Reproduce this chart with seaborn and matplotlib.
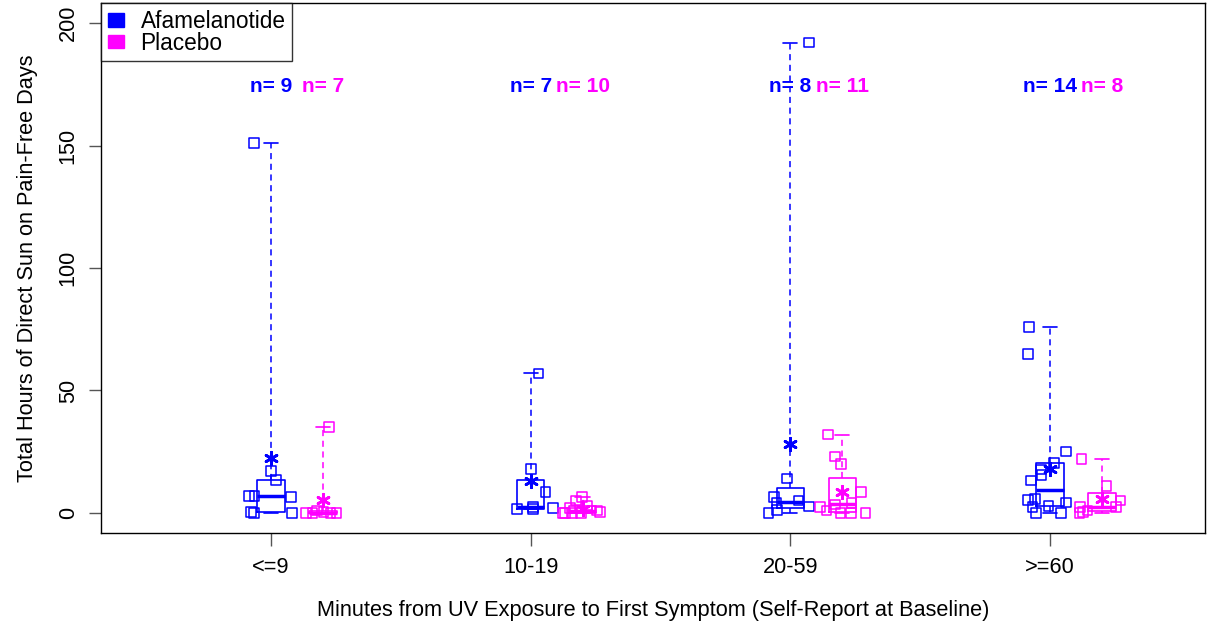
import numpy as np
import pandas as pd
import matplotlib
matplotlib.use("Agg")
import matplotlib.pyplot as plt
import seaborn as sns
from matplotlib.patches import Patch

groups = ["<=9", "10-19", "20-59", ">=60"]
treatments = ["Afamelanotide", "Placebo"]
colors = {"Afamelanotide": "#0000FF", "Placebo": "#FF00FF"}

afam_vals = [
    [151, 17, 13.5, 7, 6.8, 6.4, 0.5, 0, 0],
    [57, 18, 8.5, 2.5, 2, 1.5, 1.5],
    [192, 14, 6.4, 5, 4, 2.6, 1.2, 0],
    [76, 65, 25, 20.3, 17.8, 15.5, 13.2, 5.6, 5.3, 4.2, 2.9, 2.3, 0, 0],
]
plac_vals = [
    [35, 1, 0.5, 0, 0, 0, 0],
    [6.5, 5, 3, 2, 1, 0.5, 0, 0, 0, 0],
    [32, 23, 20, 8.5, 4, 3.5, 2.5, 1, 0, 0, 0],
    [22, 11, 5, 2.5, 2.3, 1, 0.5, 0],
]

rows = []
for gi, g in enumerate(groups):
    for t, vals in zip(treatments, [afam_vals[gi], plac_vals[gi]]):
        for v in vals:
            rows.append({"group": g, "gi": gi, "treatment": t, "value": v})
df = pd.DataFrame(rows)

offset = {"Afamelanotide": 0.0, "Placebo": 0.2}
rng = np.random.default_rng(11)
df["xpos"] = df["gi"] + df["treatment"].map(offset) + rng.uniform(-0.09, 0.09, len(df))

sns.set_theme(style="white")
plt.rcParams["font.family"] = ["Liberation Sans", "DejaVu Sans"]
plt.rcParams["text.color"] = "black"
plt.rcParams["axes.labelcolor"] = "black"
plt.rcParams["xtick.color"] = "black"
plt.rcParams["ytick.color"] = "black"

FS = 15.7

fig = plt.figure(figsize=(12.09, 6.27), dpi=100)
ax = fig.add_axes([101 / 1209, 94 / 627, 1104 / 1209, 530 / 627])


def fivenum(v):
    v = np.sort(np.asarray(v, float))
    n = len(v)
    n4 = np.floor((n + 3) / 2) / 2
    d = np.array([1, n4, (n + 1) / 2, n + 1 - n4, n]) - 1
    return 0.5 * (v[np.floor(d).astype(int)] + v[np.ceil(d).astype(int)])


for t in treatments:
    c = colors[t]
    stats = []
    pos = []
    data = afam_vals if t == "Afamelanotide" else plac_vals
    for gi, vals in enumerate(data):
        f = fivenum(vals)
        stats.append(dict(whislo=f[0], q1=f[1], med=f[2], q3=f[3], whishi=f[4], fliers=[]))
        pos.append(gi + offset[t])
    ax.bxp(stats, positions=pos, widths=0.105, showfliers=False, manage_ticks=False,
           boxprops=dict(color=c, lw=1.2),
           medianprops=dict(color=c, lw=2.5),
           whiskerprops=dict(color=c, lw=1.1, ls=(0, (4, 3))),
           capprops=dict(color=c, lw=1.2), capwidths=0.055)

n_before = len(ax.collections)
sns.scatterplot(data=df, x="xpos", y="value", hue="treatment", palette=colors,
                marker="s", s=48, linewidth=1.1, legend=False, ax=ax, zorder=3)
for coll in ax.collections[n_before:]:
    fc = coll.get_facecolors()
    coll.set_edgecolors(fc)
    coll.set_facecolor("none")

means = df.groupby(["gi", "treatment"], as_index=False)["value"].mean()
means["xpos"] = means["gi"] + means["treatment"].map(offset)
for t in treatments:
    m = means[means["treatment"] == t]
    ax.scatter(m["xpos"], m["value"], marker=(6, 2, 0), s=80, color=colors[t], lw=2, zorder=4)

counts = df.groupby(["gi", "treatment"]).size()
for (gi, t), n in counts.items():
    ax.text(gi + offset[t], 174, f"n= {n}",
            color=colors[t], ha="center", va="center", fontsize=15, fontweight="bold")

ax.set_xlim(-0.655, 3.597)
ax.set_ylim(-8.2, 208.2)
ax.set_xticks(range(len(groups)))
ax.set_xticklabels(groups, fontsize=FS)
ax.set_yticks([0, 50, 100, 150, 200])
ax.set_yticklabels(["0", "50", "100", "150", "200"], fontsize=FS, rotation=90, va="center")
ax.tick_params(axis="both", length=9, width=1, color="#555555", direction="out",
               bottom=True, left=True, labelcolor="black")
ax.tick_params(axis="x", pad=8)
ax.tick_params(axis="y", pad=7)
ax.set_xlabel("Minutes from UV Exposure to First Symptom (Self-Report at Baseline)",
              fontsize=FS, labelpad=16, color="black")
ax.set_ylabel("Total Hours of Direct Sun on Pain-Free Days", fontsize=FS, labelpad=14,
              color="black")
for s in ax.spines.values():
    s.set_color("black")
    s.set_linewidth(1)
ax.grid(False)

handles = [Patch(facecolor=colors[t], edgecolor=colors[t], label=t) for t in treatments]
leg = ax.legend(handles=handles, loc="upper left", fontsize=16.3, frameon=True,
                fancybox=False, borderaxespad=0, handlelength=0.7, handleheight=0.55,
                labelspacing=-0.05, handletextpad=0.75, borderpad=0.3)
leg.get_frame().set_edgecolor("black")
leg.get_frame().set_linewidth(1)
for txt in leg.get_texts():
    txt.set_color("black")

fig.savefig("out.png", dpi=100)
